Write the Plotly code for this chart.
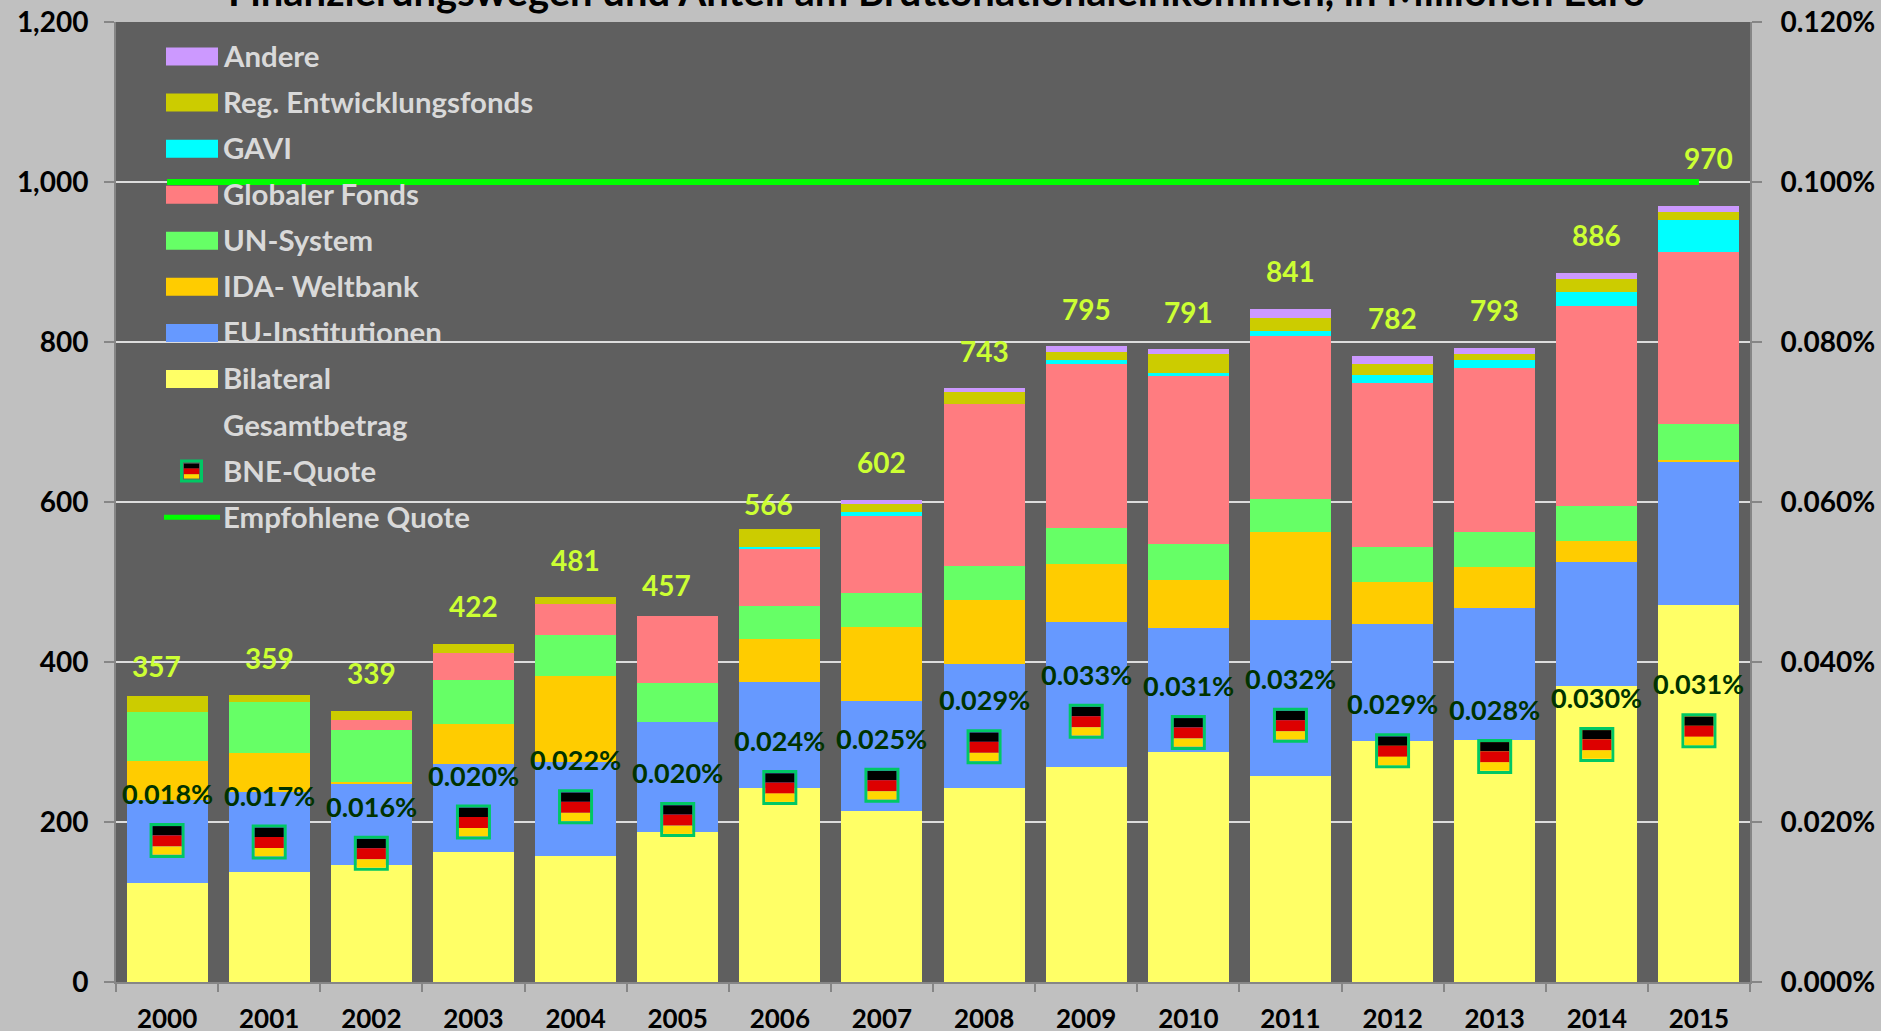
import plotly.graph_objects as go

YEARS = [str(y) for y in range(2000, 2016)]
BILATERAL = [124, 138, 146, 163, 158, 188, 243, 214, 242, 269, 287, 258, 301, 303, 370, 471]
EU = [104, 99, 102, 109, 117, 137, 132, 137, 156, 181, 155, 195, 147, 165, 155, 179]
IDA = [48, 49, 2, 51, 107, 0, 54, 93, 80, 73, 60, 110, 52, 51, 26, 2]
UN = [61, 64, 65, 55, 52, 49, 41, 42, 42, 45, 46, 41, 44, 44, 44, 46]
GLOBAL_FUND = [0, 0, 13, 33, 38, 83, 71, 97, 203, 205, 209, 204, 205, 205, 250, 215]
GAVI = [0, 0, 0, 0, 0, 0, 3, 4, 0, 5, 4, 6, 10, 10, 18, 40]
REG = [20, 9, 11, 11, 9, 0, 22, 11, 15, 9, 24, 16, 13, 7, 16, 9]
OTHER = [0, 0, 0, 0, 0, 0, 0, 4, 5, 8, 6, 11, 10, 8, 7, 8]
TOTALS = [357, 359, 339, 422, 481, 457, 566, 602, 743, 795, 791, 841, 782, 793, 886, 970]
GNI_SHARE = [0.0177, 0.0175, 0.0161, 0.0200, 0.0219, 0.0203, 0.0243, 0.0246,
             0.0294, 0.0326, 0.0312, 0.0321, 0.0289, 0.0282, 0.0297, 0.0314]
GNI_LABELS = ["0.018%", "0.017%", "0.016%", "0.020%", "0.022%", "0.020%", "0.024%", "0.025%",
              "0.029%", "0.033%", "0.031%", "0.032%", "0.029%", "0.028%", "0.030%", "0.031%"]
RECOMMENDED = [0.1] * 16

TITLE = "Finanzierungswegen und Anteil am Bruttonationaleinkommen, in Millionen Euro"

# label nudges in pixels (style, not data)
TOTAL_DX = [-11, 0, 0, 0, 0, -11, -11, 0, 0, 0, 0, 0, 0, 0, 0, 10]
TOTAL_DY = [30, 37, 38, 38, 37, 31, 25, 38, 37, 37, 37, 38, 38, 38, 38, 48]

SERIES = [
    ("Bilateral", BILATERAL, "#FFFF66"),
    ("EU-Institutionen", EU, "#6699FF"),
    ("IDA- Weltbank", IDA, "#FFCC00"),
    ("UN-System", UN, "#66FF66"),
    ("Globaler Fonds", GLOBAL_FUND, "#FF7C80"),
    ("GAVI", GAVI, "#00FFFF"),
    ("Reg. Entwicklungsfonds", REG, "#CCCC00"),
    ("Andere", OTHER, "#CC99FF"),
]

W, H = 1881, 1031
L, R, T, B = 116, 1750, 22, 981.7
FONT = "Lato, 'Open Sans', sans-serif"


def px(x):
    return (x - L) / (R - L)


def py(y):
    return (B - y) / (B - T)


fig = go.Figure()
for name, vals, col in SERIES:
    fig.add_bar(x=YEARS, y=vals, name=name, marker=dict(color=col, line=dict(width=0)), showlegend=False)

fig.add_scatter(x=YEARS, y=RECOMMENDED, yaxis="y2", mode="lines", name="Empfohlene Quote",
                line=dict(color="#00FF00", width=6), showlegend=False)
fig.add_scatter(x=YEARS, y=GNI_SHARE, yaxis="y2", mode="markers", name="BNE-Quote", showlegend=False,
                marker=dict(symbol="square", size=32, color="rgba(0,0,0,0)",
                            line=dict(color="#00C864", width=3)))

shapes = []
STRIPES = [(-14.3, -5, "#000000"), (-5, 6, "#DD0000"), (6, 14.3, "#FFD700")]


def flag(xref, yref, x, y, scale=1.0):
    for y0, y1, col in STRIPES:
        shapes.append(dict(type="rect", layer="above", xref=xref, yref=yref,
                           xsizemode="pixel", ysizemode="pixel", xanchor=x, yanchor=y,
                           x0=-14.5 * scale, x1=14.5 * scale, y0=-y0 * scale, y1=-y1 * scale,
                           fillcolor=col, line=dict(width=0)))


# numeric-looking category names are addressed by their position on the axis
for i, v in enumerate(GNI_SHARE):
    flag("x", "y2", i, v)

annotations = []
for i, (t, dx, dy) in enumerate(zip(TOTALS, TOTAL_DX, TOTAL_DY)):
    annotations.append(dict(x=i, y=t, xref="x", yref="y", text=str(t), showarrow=False,
                            xshift=dx, yshift=dy, yanchor="middle",
                            font=dict(family=FONT, size=28, color="#CCFF33", weight="bold")))
for i, (v, lab) in enumerate(zip(GNI_SHARE, GNI_LABELS)):
    annotations.append(dict(x=i, y=v, xref="x", yref="y2", text=lab, showarrow=False,
                            yshift=47, yanchor="middle",
                            font=dict(family=FONT, size=27, color="#003300", weight="bold")))

# Hand-built legend, as the reference's legend has large swatches and wide spacing
LEGEND_NAMES = ["Andere", "Reg. Entwicklungsfonds", "GAVI", "Globaler Fonds", "UN-System", "IDA- Weltbank",
                "EU-Institutionen", "Bilateral", "Gesamtbetrag", "BNE-Quote", "Empfohlene Quote"]
COLORS = {n: c for n, _, c in SERIES}
for i, name in enumerate(LEGEND_NAMES):
    yc = 56.5 + i * 46.05
    annotations.append(dict(x=px(221), y=py(yc - 1), xref="paper", yref="paper", text=name, showarrow=False,
                            xanchor="left", yanchor="middle",
                            font=dict(family=FONT, size=29.4, color="#D9D9D9", weight="bold")))
    if name in COLORS:
        shapes.append(dict(type="rect", layer="above", xref="paper", yref="paper",
                           x0=px(166), x1=px(218), y0=py(yc - 9), y1=py(yc + 9),
                           fillcolor=COLORS[name], line=dict(width=0)))
    elif name == "BNE-Quote":
        shapes.append(dict(type="rect", layer="above", xref="paper", yref="paper",
                           x0=px(181.5), x1=px(201.5), y0=py(yc - 10), y1=py(yc + 10),
                           fillcolor="#5F5F5F", line=dict(color="#00C864", width=3)))
        flag("paper", "paper", px(191.5), py(yc), 0.52)
    elif name == "Empfohlene Quote":
        shapes.append(dict(type="line", layer="above", xref="paper", yref="paper",
                           x0=px(164), x1=px(220), y0=py(yc), y1=py(yc),
                           line=dict(color="#00FF00", width=5)))

annotations.append(dict(x=px(936), y=py(4), xref="paper", yref="paper", text=TITLE, showarrow=False,
                        xanchor="center", yanchor="bottom", yshift=-13,
                        font=dict(family=FONT, size=40, color="#000000", weight="bold")))

XFONT = dict(family=FONT, size=26, color="#000000", weight="bold")
TICKFONT = dict(family=FONT, size=28, color="#000000", weight="bold")
fig.update_layout(
    width=W, height=H, barmode="stack", bargap=0.206, showlegend=False,
    paper_bgcolor="#C0C0C0", plot_bgcolor="#5F5F5F",
    margin=dict(l=L, r=W - R, t=T, b=H - B, pad=0, autoexpand=False),
    shapes=shapes, annotations=annotations,
    xaxis=dict(type="category", categoryorder="array", categoryarray=YEARS, range=[-0.5, 15.5], autorange=False,
               tickson="boundaries", ticks="outside", ticklen=8, tickwidth=2, tickcolor="#868686", showgrid=False,
               showline=True, linecolor="#868686", linewidth=2, tickfont=XFONT, ticklabelstandoff=13,
               tickangle=0, automargin=False, tickmode="array", tickvals=YEARS, ticktext=YEARS),
    yaxis=dict(range=[0, 1200], dtick=200, tickformat=",d", ticks="outside", ticklen=10, tickwidth=2,
               tickcolor="#868686", showline=True, linecolor="#868686", linewidth=2, automargin=False,
               gridcolor="#DDDDDD", gridwidth=2, zeroline=False, tickfont=TICKFONT, ticklabelstandoff=10),
    yaxis2=dict(range=[0, 0.12], dtick=0.02, tickformat=".3f", ticksuffix="%", overlaying="y", side="right",
                ticks="outside", ticklen=10, tickwidth=2, tickcolor="#868686", showline=True, automargin=False,
                linecolor="#868686", linewidth=2, showgrid=False, zeroline=False, tickfont=TICKFONT,
                ticklabelstandoff=13),
)

fig.write_html("out.html", config={"displayModeBar": False},
               post_script="document.body.style.margin='0';document.documentElement.style.overflow='hidden';")
